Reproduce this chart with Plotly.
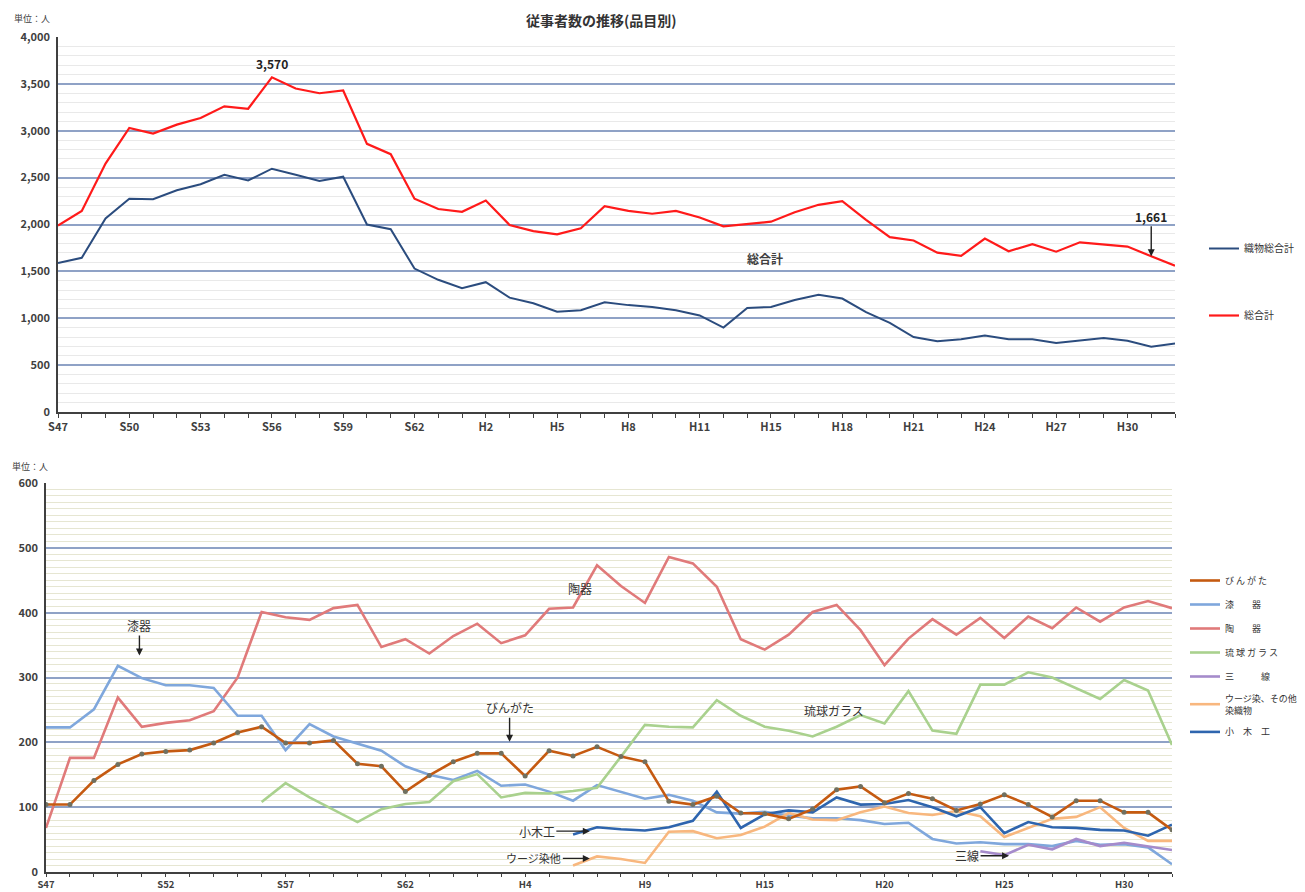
import plotly.graph_objects as go

# --------------------------------------------------------------------------- #
# Data
# --------------------------------------------------------------------------- #
years = [
    "S47", "S48", "S49", "S50", "S51", "S52", "S53", "S54", "S55", "S56",
    "S57", "S58", "S59", "S60", "S61", "S62", "S63",
    "H1", "H2", "H3", "H4", "H5", "H6", "H7", "H8", "H9", "H10", "H11",
    "H13", "H14", "H15", "H16", "H17", "H18", "H19", "H20", "H21", "H22",
    "H23", "H24", "H25", "H26", "H27", "H28", "H29", "H30", "R1", "R2",
]

# top chart
orimono_total = [
    1590, 1645, 2065, 2275, 2270, 2365, 2430, 2530, 2470, 2595,
    2530, 2465, 2510, 2000, 1950, 1530, 1410, 1320, 1385, 1220,
    1160, 1070, 1085, 1170, 1140, 1120, 1085, 1030, 900, 1110,
    1120, 1195, 1250, 1210, 1065, 950, 800, 755, 775, 815,
    775, 775, 735, 765, 790, 760, 695, 730,
]
grand_total = [
    1990, 2145, 2650, 3030, 2970, 3065, 3135, 3260, 3235, 3570,
    3450, 3400, 3430, 2860, 2750, 2275, 2165, 2135, 2255, 1995,
    1930, 1895, 1960, 2195, 2145, 2115, 2145, 2075, 1980, 2005,
    2030, 2130, 2210, 2250, 2050, 1865, 1830, 1700, 1665, 1850,
    1715, 1790, 1710, 1810, 1785, 1765, 1661, 1560,
]

# bottom chart
bingata = [
    104, 104, 141, 166, 182, 186, 188, 199, 215, 224,
    199, 199, 203, 167, 163, 124, 149, 170, 183, 183,
    148, 187, 179, 193, 178, 170, 109, 104, 117, 91,
    90, 82, 97, 127, 132, 107, 121, 113, 95, 105,
    119, 104, 85, 110, 110, 92, 92, 65,
]
shikki = [
    223, 223, 251, 318, 299, 288, 288, 284, 241, 241,
    188, 228, 209, 198, 187, 163, 150, 142, 156, 133,
    135, 124, 110, 134, 123, 113, 119, 110, 92, 90,
    93, 87, 83, 83, 80, 74, 76, 51, 44, 46,
    43, 43, 40, 48, 42, 43, 38, 12,
]
touki = [
    68, 176, 176, 269, 224, 230, 234, 248, 300, 401,
    393, 389, 407, 412, 347, 359, 337, 364, 383, 353,
    365, 406, 408, 473, 441, 415, 486, 476, 440, 359,
    343, 366, 401, 412, 373, 319, 360, 390, 366, 392,
    361, 394, 376, 408, 386, 408, 418, 407,
]
glass = [
    None, None, None, None, None, None, None, None, None, 108,
    137, 115, 96, 77, 97, 105, 108, 140, 151, 115,
    122, 121, 125, 130, 178, 227, 224, 223, 265, 241,
    224, 218, 209, 224, 242, 229, 279, 218, 213, 289,
    289, 308, 300, 284, 267, 296, 280, 196,
]
sanshin = [None] * 39 + [32, 26, 42, 35, 51, 40, 45, 40, 34]
uji = [None] * 22 + [
    10, 24, 20, 14, 62, 63, 52, 57, 70, 91,
    81, 80, 92, 101, 91, 88, 94, 86, 54, 68,
    82, 85, 100, 68, 48, 48,
]
kogi = [None] * 22 + [
    58, 69, 66, 64, 69, 79, 124, 68, 89, 95,
    92, 115, 104, 105, 111, 100, 86, 100, 60, 77,
    69, 68, 65, 64, 56, 73,
]

top_labels = [y if i % 3 == 0 else "" for i, y in enumerate(years)]
bottom_labels = [y if i % 5 == 0 else "" for i, y in enumerate(years)]

W, H = 1305, 892
OFF = 8  # page body margin the browser adds around the plot div
FONT = "Noto Sans CJK JP, sans-serif"
TXT = "#404040"


def px_x(p):
    return (p - OFF) / W


def px_y(p):
    return 1 - (p - OFF) / H


fig = go.Figure()

# --------------------------------------------------------------------------- #
# Top chart
# --------------------------------------------------------------------------- #
fig.add_trace(go.Scatter(
    x=years, y=orimono_total, name="織物総合計", mode="lines",
    line=dict(color="#2B4C7E", width=2), legendgroup="a",
))
fig.add_trace(go.Scatter(
    x=years, y=grand_total, name="総合計", mode="lines",
    line=dict(color="#FF1A1A", width=2.2), legendgroup="b",
))

# --------------------------------------------------------------------------- #
# Bottom chart
# --------------------------------------------------------------------------- #
bottom_series = [
    ("び ん が た", bingata, "#C55A11"),
    ("漆　　器", shikki, "#7FA7DC"),
    ("陶　　器", touki, "#E07A7A"),
    ("琉 球 ガ ラ ス", glass, "#A9D18E"),
    ("三　　　線", sanshin, "#A58BCB"),
    ("ウージ染、その他<br>染織物", uji, "#F8B77E"),
    ("小　木　工", kogi, "#2E65AE"),
]
draw_rank = {0: 6, 1: 1, 2: 0, 3: 2, 4: 3, 5: 4, 6: 5}
for k in sorted(draw_rank, key=draw_rank.get):
    name, vals, color = bottom_series[k]
    fig.add_trace(go.Scatter(
        x=years, y=vals, name=name, mode="lines",
        line=dict(color=color, width=2.6),
        xaxis="x2", yaxis="y2", legend="legend2",
        legendgroup=f"g{k}", legendrank=k + 1,
    ))
# びんがた point markers (kept out of the legend)
fig.add_trace(go.Scatter(
    x=years, y=bingata, mode="markers", showlegend=False,
    marker=dict(size=5, color="#707060"), xaxis="x2", yaxis="y2",
    legendgroup="g0",
))

# --------------------------------------------------------------------------- #
# Axes
# --------------------------------------------------------------------------- #
tickfont = dict(size=11, color=TXT, family=FONT, weight="bold")
xcommon = dict(
    type="category", range=[0, len(years) - 1], tickvals=years,
    ticks="outside", ticklen=4, tickcolor=TXT, tickwidth=1.2,
    showline=True, linecolor=TXT, linewidth=1.5, showgrid=False,
    tickfont=tickfont, fixedrange=True, automargin=False,
)
fig.update_layout(
    xaxis=dict(xcommon, domain=[px_x(58), px_x(1175)], anchor="y",
               ticktext=top_labels),
    yaxis=dict(
        domain=[px_y(412), px_y(37)], anchor="x", range=[0, 4000],
        dtick=500, tickformat=",", showline=True, linecolor=TXT,
        linewidth=1.5, gridcolor="#8FA2C6", gridwidth=2, zeroline=False,
        minor=dict(dtick=100, showgrid=True, gridcolor="#E9E9E9", gridwidth=1),
        tickfont=tickfont, ticks="", ticklabelstandoff=4, automargin=False,
    ),
    xaxis2=dict(xcommon, domain=[px_x(46), px_x(1172)], anchor="y2",
                ticktext=bottom_labels, ticklen=3,
                tickfont=dict(tickfont, size=9.5)),
    yaxis2=dict(
        domain=[px_y(872), px_y(483)], anchor="x2", range=[0, 600],
        dtick=100, showline=True, linecolor=TXT, linewidth=1.5,
        gridcolor="#8FA2C6", gridwidth=1.6, zeroline=False,
        minor=dict(dtick=10, showgrid=True, gridcolor="#E6E6D2", gridwidth=1),
        tickfont=tickfont, ticks="", ticklabelstandoff=4, automargin=False,
    ),
)

# --------------------------------------------------------------------------- #
# Annotations
# --------------------------------------------------------------------------- #
peak_i = grand_total.index(max(grand_total))
last_i = years.index("R1")
arrow = dict(showarrow=True, arrowhead=2, arrowsize=1, arrowwidth=1.4,
             arrowcolor="#222222")
paper = dict(xref="paper", yref="paper", showarrow=False,
             xanchor="center", yanchor="middle")
notes = [
    dict(paper, text="従事者数の推移(品目別)", x=px_x(601), y=px_y(20),
         font=dict(size=14, color="#333333", weight="bold")),
    dict(paper, text="単位：人", x=px_x(12), y=px_y(18), xanchor="left",
         font=dict(size=9, color=TXT)),
    dict(paper, text="単位：人", x=px_x(10), y=px_y(466), xanchor="left",
         font=dict(size=9, color=TXT)),
    dict(text=f"{grand_total[peak_i]:,}", xref="x", yref="y", x=peak_i,
         y=grand_total[peak_i], yshift=14, showarrow=False,
         font=dict(size=12, color="#222222", weight="bold")),
    dict(arrow, text=f"{grand_total[last_i]:,}", xref="x", yref="y",
         x=last_i, y=grand_total[last_i], ax=0, ay=-40,
         font=dict(size=12, color="#222222", weight="bold")),
    dict(paper, text="総合計", x=px_x(765), y=px_y(258),
         font=dict(size=12, color=TXT, weight="bold")),
    # bottom chart labels
    dict(arrow, text="漆器", xref="x2", yref="y2", x=3.9, y=334, ax=0, ay=-30),
    dict(text="陶器", xref="x2", yref="y2", x=22.3, y=438, showarrow=False),
    dict(arrow, text="びんがた", xref="x2", yref="y2", x=19.35, y=201,
         ax=0, ay=-34),
    dict(text="琉球ガラス", xref="x2", yref="y2", x=32.9, y=249,
         showarrow=False),
    dict(arrow, text="小木工", xref="x2", yref="y2", x=22.7, y=63,
         ax=-53, ay=0),
    dict(arrow, text="ウージ染他", xref="x2", yref="y2", x=22.7, y=21,
         ax=-56, ay=0, font=dict(size=11)),
    dict(arrow, text="三線", xref="x2", yref="y2", x=40.2, y=25,
         ax=-42, ay=0),
]
for n in notes:
    n.setdefault("font", dict(size=12))
    n["font"].setdefault("color", "#333333")
fig.update_layout(annotations=notes)

fig.update_layout(
    width=W, height=H,
    margin=dict(l=0, r=0, t=0, b=0, autoexpand=False),
    paper_bgcolor="white", plot_bgcolor="white",
    font=dict(family=FONT, color=TXT, size=11),
    showlegend=True,
    legend=dict(
        x=px_x(1204), y=px_y(234), xanchor="left", yanchor="top",
        font=dict(size=10, color="#333333"), tracegroupgap=48,
        bgcolor="rgba(0,0,0,0)", itemwidth=30,
    ),
    legend2=dict(
        x=px_x(1185), y=px_y(566), xanchor="left", yanchor="top",
        font=dict(size=9, color="#333333"), tracegroupgap=5,
        bgcolor="rgba(0,0,0,0)", traceorder="grouped", itemwidth=30,
    ),
)

fig.write_html("out.html")
